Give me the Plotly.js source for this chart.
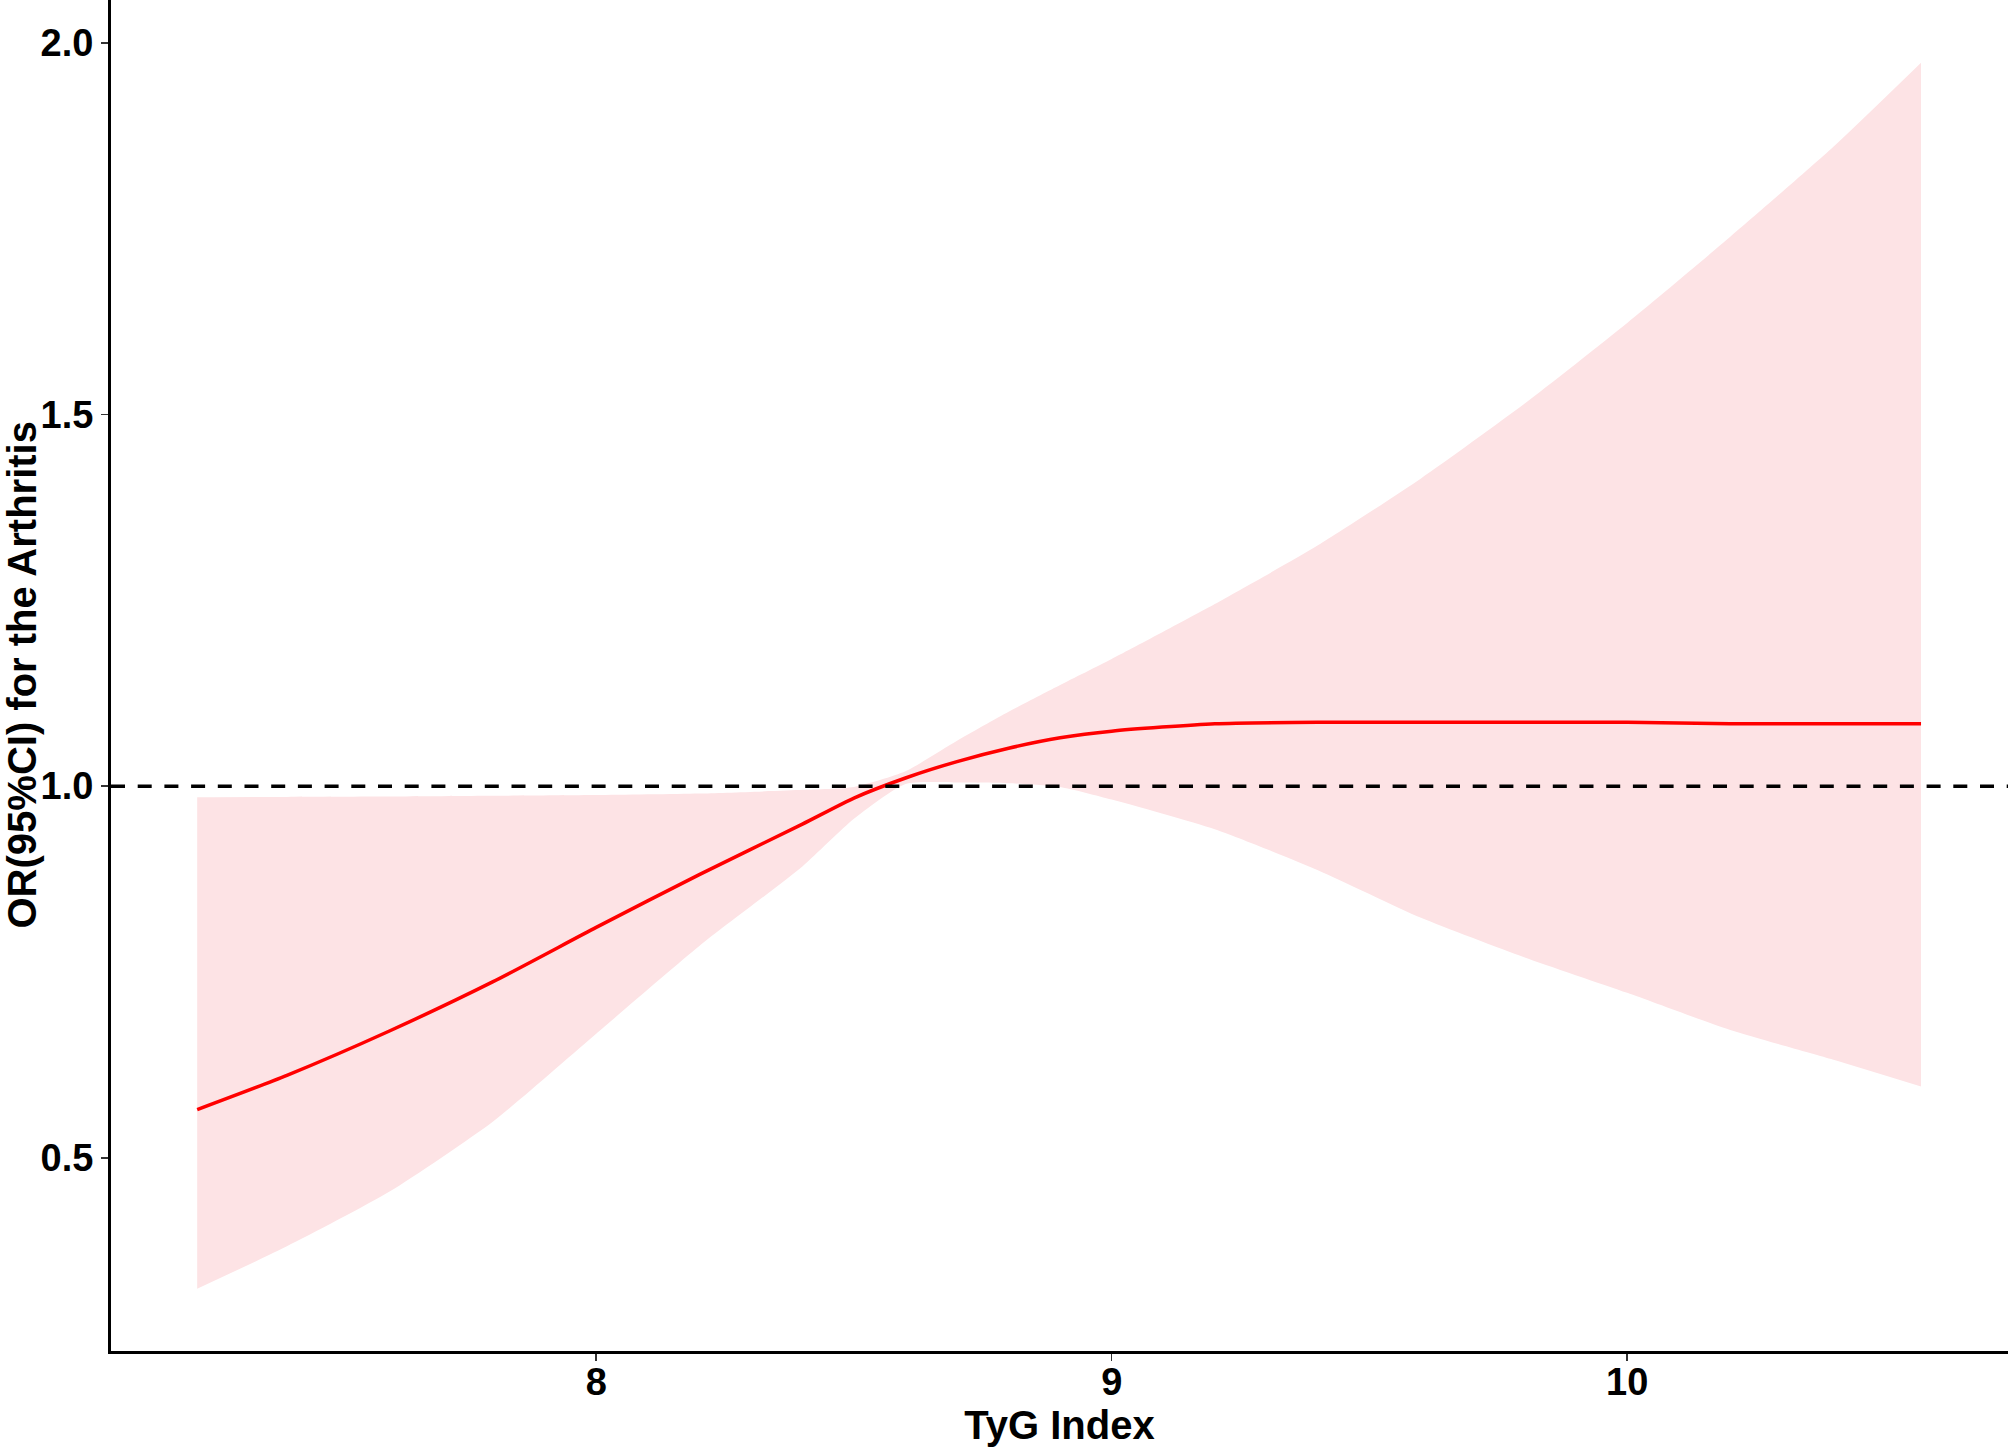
<!DOCTYPE html>
<html>
<head>
<meta charset="utf-8">
<script src="https://cdn.plot.ly/plotly-3.0.1.min.js"></script>
<style>
  html, body { margin: 0; padding: 0; background: #ffffff; }
  #chart { width: 2008px; height: 1447px; }
</style>
</head>
<body>
<div id="chart"></div>
<script>
// TyG index values (x)
const tygIndex = [7.226, 7.4, 7.6, 7.8, 8.0, 8.2, 8.4, 8.5, 8.6, 8.7, 8.8, 8.9, 9.0, 9.2, 9.4, 9.6, 9.8, 10.0, 10.2, 10.4, 10.57];
// Odds ratio estimate
const orValue = [0.565, 0.611, 0.671, 0.737, 0.810, 0.881, 0.949, 0.984, 1.011, 1.033, 1.051, 1.065, 1.074, 1.084, 1.086, 1.086, 1.086, 1.086, 1.084, 1.084, 1.084];
// 95% CI lower bound
const ciLower = [0.324, 0.381, 0.455, 0.549, 0.667, 0.785, 0.892, 0.956, 1.003, 1.005, 1.004, 0.999, 0.982, 0.942, 0.887, 0.823, 0.770, 0.722, 0.672, 0.632, 0.596];
// 95% CI upper bound
const ciUpper = [0.985, 0.9855, 0.986, 0.987, 0.988, 0.990, 0.995, 0.999, 1.020, 1.061, 1.100, 1.136, 1.171, 1.245, 1.324, 1.414, 1.514, 1.623, 1.739, 1.860, 1.973];
// Reference line
const refLine = 1.0;
// Axis ticks and titles
const xTicks = [8, 9, 10];
const yTicks = [0.5, 1.0, 1.5, 2.0];
const yTickLabels = ["0.5", "1.0", "1.5", "2.0"];
const xTitle = 'TyG Index';
const yTitle = 'OR(95%CI) for the Arthritis';

const fontFam = "'Liberation Sans', Arial, sans-serif";

const traces = [
  {
    x: tygIndex, y: ciLower, type: 'scatter', mode: 'lines',
    line: { width: 0, color: 'rgba(0,0,0,0)', shape: 'spline', smoothing: 0.6 }, hoverinfo: 'skip', showlegend: false
  },
  {
    x: tygIndex, y: ciUpper, type: 'scatter', mode: 'lines',
    fill: 'tonexty', fillcolor: 'rgb(253,227,229)',
    line: { width: 0, color: 'rgba(0,0,0,0)', shape: 'spline', smoothing: 0.6 }, hoverinfo: 'skip', showlegend: false
  },
  {
    x: tygIndex, y: orValue, type: 'scatter', mode: 'lines',
    line: { width: 3.5, color: '#FF0000', shape: 'spline', smoothing: 0.6 }, showlegend: false
  }
];

const layout = {
  width: 2008, height: 1447,
  margin: { l: 111, r: 0, t: 0, b: 96, pad: 0 },
  paper_bgcolor: '#ffffff', plot_bgcolor: '#ffffff',
  showlegend: false,
  xaxis: {
    range: [7.0588, 10.7387],
    tickvals: xTicks, ticktext: xTicks.map(String),
    showgrid: false, zeroline: false,
    showline: true, linecolor: '#000000', linewidth: 3,
    ticks: 'outside', ticklen: 7, tickwidth: 1.5, tickcolor: '#333333',
    ticklabelstandoff: -12,
    tickfont: { family: fontFam, size: 38, color: '#000000', weight: 'bold' },
    title: { text: xTitle, font: { family: fontFam, size: 40, color: '#000000', weight: 'bold' }, standoff: 8 }
  },
  yaxis: {
    range: [0.2402, 2.0575],
    tickvals: yTicks, ticktext: yTickLabels,
    showgrid: false, zeroline: false,
    showline: true, linecolor: '#000000', linewidth: 3,
    ticks: 'outside', ticklen: 7, tickwidth: 1.5, tickcolor: '#333333',
    tickfont: { family: fontFam, size: 38, color: '#000000', weight: 'bold' }
  },
  annotations: [
    {
      text: yTitle, xref: 'paper', yref: 'paper', x: -90 / 1897, y: 0.5,
      xanchor: 'center', yanchor: 'middle', textangle: -90, showarrow: false, borderpad: 0,
      font: { family: fontFam, size: 40, color: '#000000', weight: 'bold' }
    }
  ],
  shapes: [
    {
      type: 'line', xref: 'paper', x0: 0, x1: 1, yref: 'y', y0: refLine, y1: refLine,
      line: { color: '#000000', width: 3.5, dash: '14px,12.7px' }
    }
  ]
};

Plotly.newPlot('chart', traces, layout, { displayModeBar: false, staticPlot: true });
</script>
</body>
</html>
